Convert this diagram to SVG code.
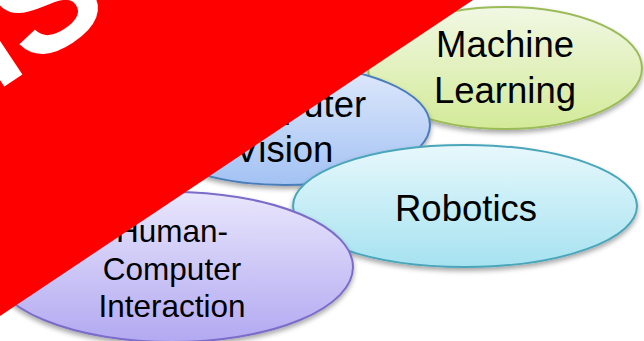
<svg xmlns="http://www.w3.org/2000/svg" width="644" height="341" viewBox="0 0 644 341">
  <defs>
    <linearGradient id="gGreen" x1="0" y1="0" x2="0" y2="1">
      <stop offset="0" stop-color="#f1f8e4"/>
      <stop offset="1" stop-color="#d3ea98"/>
    </linearGradient>
    <linearGradient id="gBlue" x1="0" y1="0" x2="0" y2="1">
      <stop offset="0" stop-color="#dfe9fb"/>
      <stop offset="1" stop-color="#a3c2f3"/>
    </linearGradient>
    <linearGradient id="gCyan" x1="0" y1="0" x2="0" y2="1">
      <stop offset="0" stop-color="#e7f8fc"/>
      <stop offset="1" stop-color="#a6e2f0"/>
    </linearGradient>
    <linearGradient id="gPurple" x1="0" y1="0" x2="0" y2="1">
      <stop offset="0" stop-color="#e9e6fc"/>
      <stop offset="1" stop-color="#b2a9f1"/>
    </linearGradient>
    <filter id="shadow" x="-10%" y="-10%" width="120%" height="130%">
      <feDropShadow dx="0" dy="3" stdDeviation="2.5" flood-color="#000" flood-opacity="0.35"/>
    </filter>
  </defs>
  <style>
    .bubble { stroke-width: 2; filter: url(#shadow); }
    .label { font-family: "Liberation Sans", Arial, sans-serif; fill: #000; text-anchor: middle; }
    .big { font-size: 36.5px; }
    .mid { font-size: 31.5px; }
    .stamp { font-family: "Liberation Sans", Arial, sans-serif; font-weight: bold; font-size: 150px; fill: #fff; }
  </style>

  <rect width="644" height="341" fill="#fff"/>

  <g id="machine-learning">
    <ellipse class="bubble" cx="505" cy="68" rx="137" ry="61" fill="url(#gGreen)" stroke="#9bbb59"/>
    <text class="label big" x="505" y="57">Machine</text>
    <text class="label big" x="505" y="103">Learning</text>
  </g>

  <g id="computer-vision">
    <ellipse class="bubble" cx="285" cy="125" rx="145" ry="60" fill="url(#gBlue)" stroke="#4a7ebb"/>
    <text class="label big" x="286" y="117">Computer</text>
    <text class="label big" x="284" y="162">Vision</text>
  </g>

  <g id="robotics">
    <ellipse class="bubble" cx="465" cy="206" rx="172" ry="61" fill="url(#gCyan)" stroke="#4aa6ba"/>
    <text class="label big" x="466" y="221">Robotics</text>
  </g>

  <g id="human-computer-interaction">
    <ellipse class="bubble" cx="172" cy="267" rx="181" ry="75" fill="url(#gPurple)" stroke="#7c6cc9"/>
    <text class="label mid" x="172" y="242">Human-</text>
    <text class="label mid" x="172" y="280">Computer</text>
    <text class="label mid" x="172" y="317">Interaction</text>
  </g>

  <g id="connectors"></g>

  <!-- red corner banner -->
  <g id="banner">
    <polygon points="0,0 473,0 0,316" fill="#ff0000"/>
    <text class="stamp" x="0" y="0" transform="translate(-4,92) rotate(-33.7)">IS</text>
  </g>
</svg>
